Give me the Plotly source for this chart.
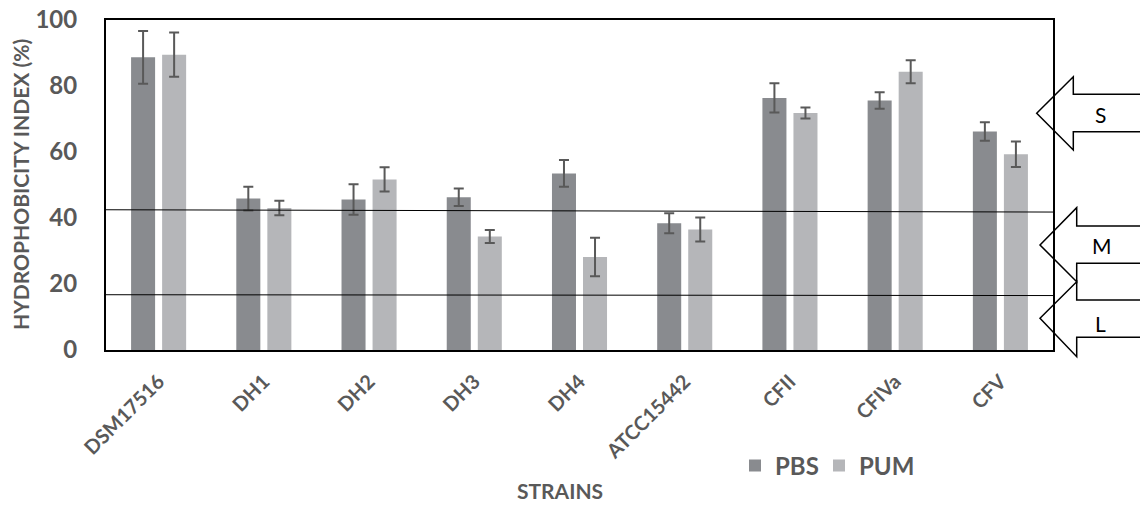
import plotly.graph_objects as go

# ---- data ----
STRAINS = ["DSM17516", "DH1", "DH2", "DH3", "DH4", "ATCC15442", "CFII", "CFIVa", "CFV"]
PBS = [88.7, 45.9, 45.6, 46.3, 53.5, 38.4, 76.4, 75.6, 66.2]
PBS_ERR = [8.0, 3.6, 4.65, 2.65, 4.05, 3.05, 4.4, 2.5, 2.8]
PUM = [89.5, 43.0, 51.7, 34.4, 28.2, 36.5, 71.8, 84.3, 59.3]
PUM_ERR = [6.7, 2.2, 3.65, 2.0, 5.85, 3.65, 1.65, 3.5, 3.85]
Y_TICKS = [0, 20, 40, 60, 80, 100]
THRESH_UPPER = [42.5, 41.8]   # left, right end
THRESH_LOWER = [16.75, 16.5]
CLASS_LABELS = ["S", "M", "L"]

# ---- layout geometry (screen pixels; body margin removed via post_script) ----
W, H = 1140, 505
PL, PR, PT, PB = 106, 1053, 20, 350   # plot area on screen
GRAY_TXT = "#595959"
FONT = "Lato, 'Open Sans', sans-serif"


def px(x):
    return (x - PL) / (PR - PL)


def py(y):
    return (PB - y) / (PB - PT)


fig = go.Figure()
fig.add_trace(go.Bar(
    x=STRAINS, y=PBS, name="PBS", legend="legend",
    marker=dict(color="#898B8F", line=dict(width=0)),
    error_y=dict(type="data", array=PBS_ERR, visible=True, color="#595959", thickness=2, width=5),
))
fig.add_trace(go.Bar(
    x=STRAINS, y=PUM, name="PUM", legend="legend2",
    marker=dict(color="#B5B6B9", line=dict(width=0)),
    error_y=dict(type="data", array=PUM_ERR, visible=True, color="#595959", thickness=2, width=5),
))

shapes = []
for (y0, y1) in (THRESH_UPPER, THRESH_LOWER):
    shapes.append(dict(type="line", xref="x domain", yref="y", x0=0, x1=1, y0=y0, y1=y1,
                       line=dict(color="black", width=1), layer="above"))

# arrow outlines (tip, head, shaft extending off the right edge)
arrows = [
    # tip x, tip y, head x, head top y, shaft top y, shaft bottom y, head bottom y
    (1036.7, 113.3, 1073.3, 76.7, 94.3, 131.7, 150.0),
    (1040.0, 245.0, 1076.7, 207.7, 226.0, 263.3, 281.7),
    (1040.0, 318.3, 1076.7, 281.7, 300.0, 337.3, 356.7),
]
label_pos = [(1100, 115), (1102, 245), (1100, 323)]
for (tx, ty, hx, hy0, sy0, sy1, hy1) in arrows:
    pts = [(tx, ty), (hx, hy0), (hx, sy0), (1160, sy0), (1160, sy1), (hx, sy1), (hx, hy1)]
    path = "M " + " L ".join(f"{px(a):.5f},{py(b):.5f}" for a, b in pts) + " Z"
    shapes.append(dict(type="path", xref="paper", yref="paper", path=path,
                       line=dict(color="black", width=1.5), fillcolor="rgba(0,0,0,0)", layer="above"))

annotations = []
for lab, (lx, ly) in zip(CLASS_LABELS, label_pos):
    annotations.append(dict(text=lab, xref="paper", yref="paper", x=px(lx), y=py(ly),
                            showarrow=False, xanchor="center", yanchor="middle",
                            font=dict(family=FONT, size=21, color="black")))
annotations.append(dict(text="STRAINS", xref="paper", yref="paper", x=px(560), y=py(490),
                        showarrow=False, xanchor="center", yanchor="middle",
                        font=dict(family=FONT, size=21, color=GRAY_TXT, weight="bold")))
annotations.append(dict(text="HYDROPHOBICITY INDEX (%)", xref="paper", yref="paper", x=px(20), y=py(185),
                        showarrow=False, xanchor="center", yanchor="middle", textangle=-90,
                        font=dict(family=FONT, size=21, color=GRAY_TXT, weight="bold")))

legend_common = dict(orientation="h", xanchor="left", yanchor="middle",
                     font=dict(family=FONT, size=24, color=GRAY_TXT, weight="bold"),
                     itemwidth=30, bgcolor="rgba(0,0,0,0)")

fig.update_layout(
    width=W, height=H,
    margin=dict(l=PL, r=W - PR, t=PT, b=H - PB, autoexpand=False),
    paper_bgcolor="white", plot_bgcolor="white",
    barmode="group", bargap=0.41, bargroupgap=0.226,
    font=dict(family=FONT, color=GRAY_TXT),
    showlegend=True,
    legend=dict(x=px(735), y=py(466), **legend_common),
    legend2=dict(x=px(819), y=py(466), **legend_common),
    shapes=shapes, annotations=annotations,
    xaxis=dict(showline=True, linecolor="black", linewidth=2, mirror=True, ticks="",
               tickangle=-45, tickfont=dict(family=FONT, size=20, color=GRAY_TXT, weight="bold"),
               ticklabelstandoff=10, automargin=False, showgrid=False),
    yaxis=dict(range=[0, 100], tickvals=Y_TICKS, showline=True, linecolor="black", linewidth=2,
               mirror=True, ticks="", showgrid=False, zeroline=False, ticklabeloverflow="allow",
               tickfont=dict(family=FONT, size=24, color=GRAY_TXT, weight="bold"),
               ticklabelstandoff=22, automargin=False),
)

fig.write_html("out.html", config={"displayModeBar": False},
               post_script="document.body.style.margin='0';document.body.style.overflow='hidden';")
